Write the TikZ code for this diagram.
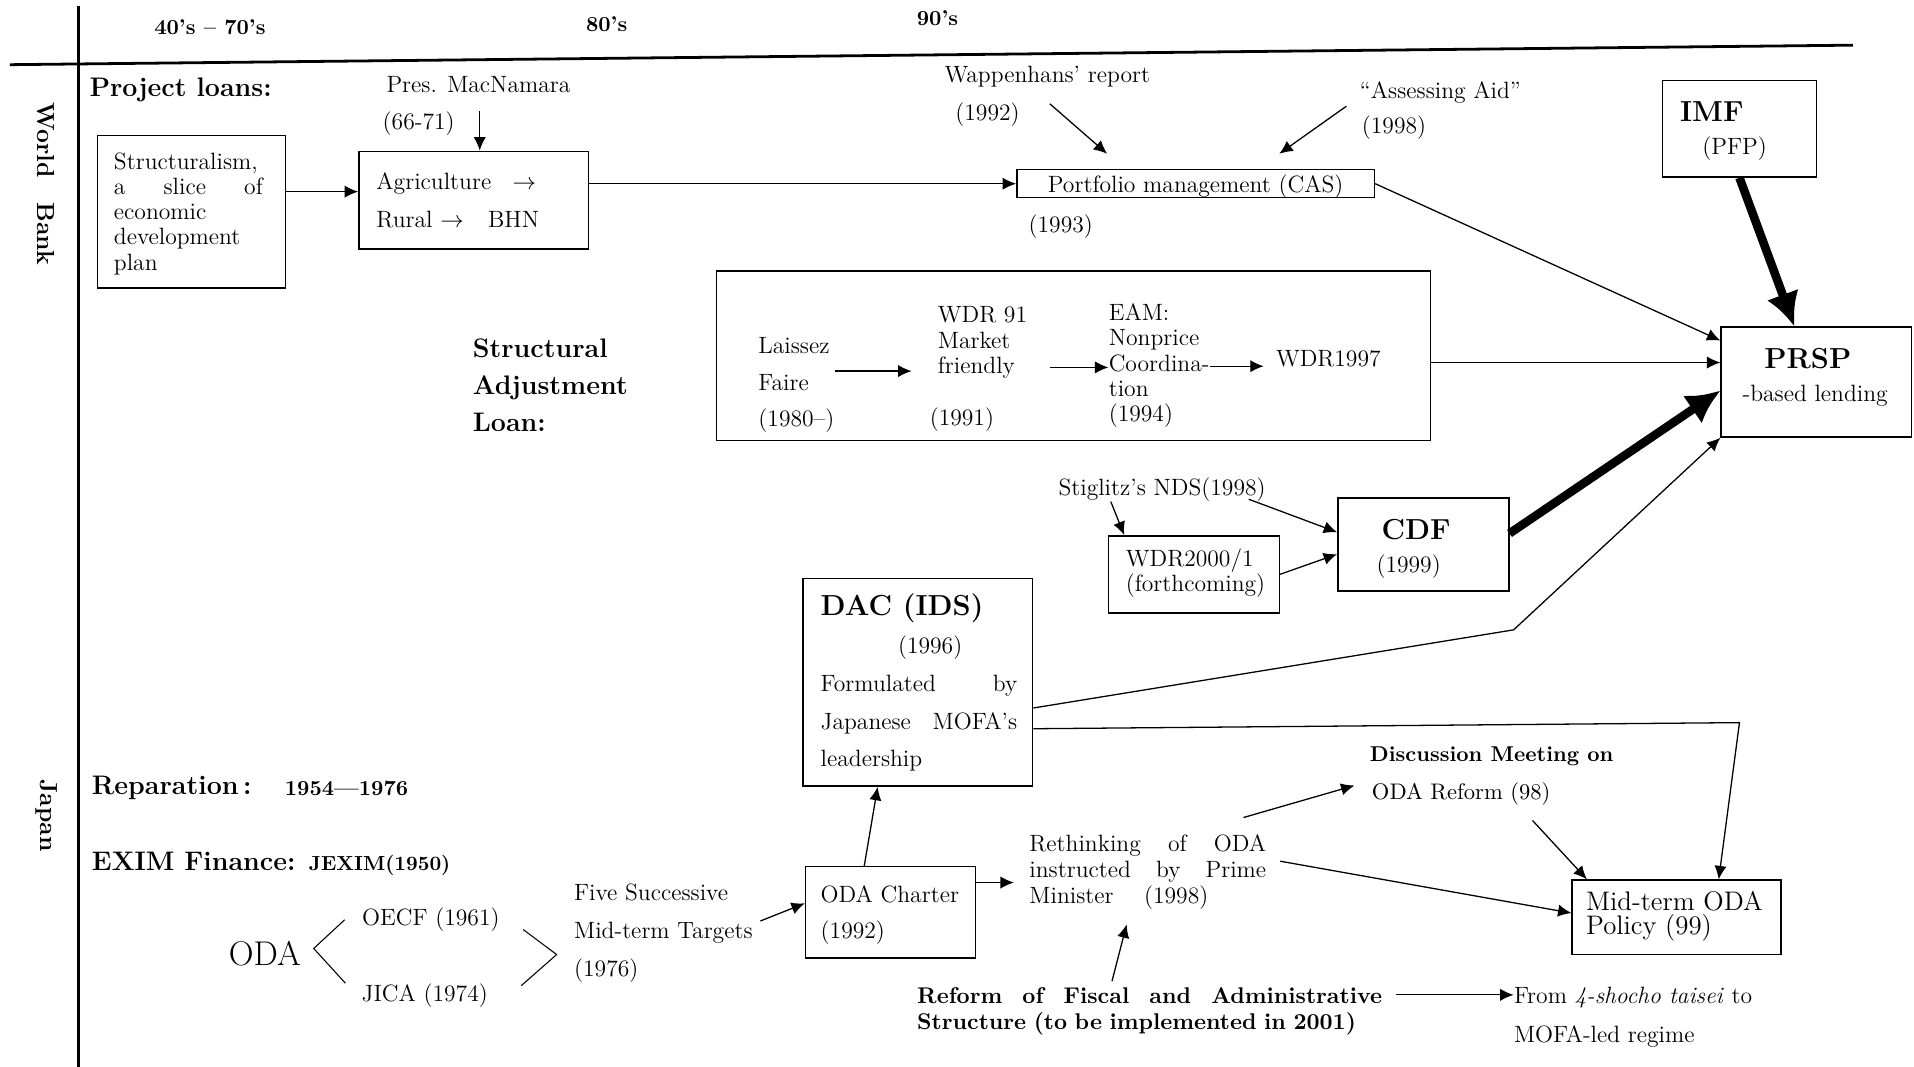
\documentclass[tikz,border=0pt]{standalone}
\usetikzlibrary{arrows.meta,fit}
\begin{document}
\begin{tikzpicture}[x=0.02cm,y=-0.02cm,
box/.style={draw,line width=0.7pt,inner sep=0pt},
txt/.style={inner sep=0pt,yshift=-0.05cm,font=\fontsize{11}{12}\selectfont},
hdr/.style={inner sep=0pt,yshift=-0.05cm,font=\fontsize{10}{12}\selectfont\bfseries},
side/.style={inner sep=0pt,font=\fontsize{11.5}{12}\selectfont\bfseries,rotate=-90},
bld/.style={inner sep=0pt,yshift=-0.05cm,font=\fontsize{12.5}{17.4}\selectfont\bfseries},
big/.style={inner sep=0pt,yshift=-0.03cm,font=\fontsize{13.5}{16}\selectfont\bfseries},
arr/.style={-{Latex[length=2.2mm,width=2mm]},line width=0.6pt},
fat/.style={-{Latex[length=5.5mm,width=5.5mm]},line width=4pt}]
%frame
\useasboundingbox (0,0) rectangle (1568,874);
\draw[line width=1.3pt](64,5)--(64,874);
\draw[line width=1.3pt](8,53)--(1518,37);
\node[hdr](h40) at (172,20){40’s -- 70’s};
\node[hdr](h80) at (497,17){80’s};
\node[hdr](h90) at (768,12){90’s};
\node[side](wbLbl) at (38,151){World\quad Bank};
\node[side](jpLbl) at (38,668){Japan};
%project loans
\node[bld,anchor=west](projLbl) at (73,71){Project loans:};
\node[txt](presLbl) at (392,67){Pres. MacNamara};
\node[txt](presYr) at (343,99){(66-71)};
\node[box,fit={(80,111)(234,236)}](structBox){};
\node[txt,anchor=north west,text width=2.44cm,align=left,font=\fontsize{11}{11.8}\selectfont](structTxt) at (93,122){Structuralism,\\a\hfill slice\hfill of\\economic\\development\\plan};
\node[box,fit={(294,124)(482,204)}](agriBox){};
\node[txt,anchor=west](agriTxt) at (308,148){Agriculture\hspace{0.35cm}$\rightarrow$};
\node[txt,anchor=west](ruralTxt) at (308,177){Rural $\rightarrow$\hspace{0.4cm}BHN};
\coordinate(presTip) at (393,91);
\draw[arr](presTip)--(agriBox.north -| presTip);
\draw[arr](structBox.east |- 0,157)--(agriBox.west |- 0,157);
%portfolio
\node[txt](wapLbl) at (858,60){Wappenhans’ report};
\node[txt](wapYr) at (809,91){(1992)};
\node[txt](aaLbl) at (1180,73){``Assessing Aid''};
\node[txt](aaYr) at (1142,102){(1998)};
\node[box,fit={(833,139)(1126,162)}](portBox){};
\node[txt](portTxt) at (portBox){Portfolio management (CAS)};
\node[txt](portYr) at (869,183){(1993)};
\coordinate(wapTail) at (860,85);
\coordinate(wapTip) at (907,126);
\coordinate(aaTail) at (1103,87);
\coordinate(aaTip) at (1048,126);
\draw[arr](wapTail)--(wapTip);
\draw[arr](aaTail)--(aaTip);
\draw[arr](agriBox.east |- portBox.west)--(portBox.west);
%IMF, PRSP
\node[box,fit={(1362,66)(1488,145)}](imfBox){};
\node[big,anchor=west](imfTxt) at (1376,90){IMF};
\node[txt](pfpTxt) at (1421,119){(PFP)};
\node[box,fit={(1410,268)(1566,358)}](prspBox){};
\node[big](prspTxt) at (1481,292){PRSP};
\node[txt](lendTxt) at (1487,322){-based lending};
\draw[fat](imfBox.south)--(prspBox.north -| 1470,0);
\draw[arr](portBox.east)--(prspBox.west |- 0,279);
%structural adjustment
\node[bld,anchor=west,align=left](salLbl) at (387,313){Structural\\Adjustment\\Loan:};
\node[box,fit={(587,222)(1172,361)}](salBox){};
\node[txt,anchor=west,align=left,font=\fontsize{11}{17}\selectfont](laisTxt) at (621,313){Laissez\\Faire\\(1980--)};
\node[txt,anchor=west,align=left,font=\fontsize{11}{11.8}\selectfont](wdr91Txt) at (768,278){WDR 91\\Market\\friendly};
\node[txt](wdr91Yr) at (788,341){(1991)};
\node[txt,anchor=west,align=left,font=\fontsize{11}{11.8}\selectfont](eamTxt) at (908,297){EAM:\\Nonprice\\Coordina-\\tion\\(1994)};
\node[txt,anchor=west](wdr97Txt) at (1045,291){WDR1997};
\draw[arr](laisTxt.east |- 0,304)--++(63,0);
\draw[arr](eamTxt.west |- 0,301)++(-48,0)--(eamTxt.west |- 0,301);
\draw[arr](eamTxt.east |- 0,300)--++(44,0);
\draw[arr](salBox.east |- 0,297)--(prspBox.west |- 0,297);
%CDF
\node[txt](stigLbl) at (952,399){Stiglitz’s NDS(1998)};
\node[box,fit={(908,439)(1048,502)}](wdr2Box){};
\node[txt,anchor=west,align=left](wdr2Txt) at (922,467){WDR2000/1\\(forthcoming)};
\node[box,fit={(1096,408)(1236,484)}](cdfBox){};
\node[big](cdfTxt) at (1160,432){CDF};
\node[txt](cdfYr) at (1154,462){(1999)};
\coordinate(stigA) at (910,411);
\coordinate(stigB) at (1023,409);
\draw[arr](stigA)--(wdr2Box.north -| 921,0);
\draw[arr](stigB)--(cdfBox.west |- 0,436);
\draw[arr](wdr2Box.east)--(cdfBox.west |- 0,454);
\draw[fat](cdfBox.east |- 0,437)--(prspBox.west |- 0,320);
%DAC
\node[box,fit={(658,474)(846,644)}](dacBox){};
\node[big,anchor=west](dacTxt) at (672,497){DAC (IDS)};
\node[txt](dacYr) at (762,528){(1996)};
\node[txt,anchor=west,text width=3.22cm,align=left,font=\fontsize{11}{17.4}\selectfont](dacDesc) at (672,590){Formulated\hfill by\\Japanese\hfill MOFA’s\\leadership};
\coordinate(dacBend) at (1240,516);
\coordinate(dacCorner) at (1425,592);
\draw[arr](dacBox.east |- 0,580)--(dacBend)--(prspBox.south west);
%========
%Japan
\node[bld,anchor=west](repLbl) at (75,643){Reparation\,:};
\node[hdr,anchor=west](repYr) at (233,643){1954---1976};
\node[bld,anchor=west](eximLbl) at (75,705){EXIM Finance: {\fontsize{9.5}{12}\selectfont JEXIM(1950)}};
\node[inner sep=0pt,font=\fontsize{16}{18}\selectfont](odaLbl) at (217,781){ODA};
\node[txt](oecfLbl) at (353,751){OECF (1961)};
\node[txt](jicaLbl) at (348,813){JICA (1974)};
\coordinate(odaTip) at (257,777);
\coordinate(fiveTip) at (456,782);
\draw[line width=0.5pt]([xshift=-0.28cm]oecfLbl.west)--(odaTip)--([shift={(-0.26cm,0.2cm)}]jicaLbl.west);
\draw[line width=0.5pt]([shift={(0.38cm,-0.16cm)}]oecfLbl.east)--(fiveTip)--([shift={(0.54cm,0.16cm)}]jicaLbl.east);
\node[txt,anchor=west,align=left,font=\fontsize{11}{17.6}\selectfont](fiveTxt) at (470,762){Five Successive\\Mid-term Targets\\(1976)};
\node[box,fit={(660,710)(799,785)}](charterBox){};
\node[txt,anchor=west,align=left,font=\fontsize{11}{17}\selectfont](charterTxt) at (672,747){ODA Charter\\(1992)};
\node[txt,anchor=west,text width=3.88cm,align=left](rethTxt) at (843,712){Rethinking\hfill of\hfill ODA\\instructed\hfill by\hfill Prime\\Minister\hspace{0.5cm}(1998)};
\node[inner sep=0pt,yshift=-0.05cm,font=\fontsize{10}{12}\selectfont\bfseries](discTxt) at (1222,617){Discussion Meeting on};
\node[txt,font=\fontsize{10.5}{12}\selectfont](odaRefTxt) at (1197,648){ODA Reform (98)};
\node[box,fit={(1288,721)(1459,782)}](midBox){};
\node[txt,anchor=west,align=left,font=\fontsize{12.5}{11.4}\selectfont](midTxt) at (1299,748){Mid-term ODA\\Policy (99)};
\node[inner sep=0pt,yshift=-0.05cm,anchor=west,text width=7.62cm,align=left,font=\fontsize{10.6}{12}\selectfont\bfseries](reformTxt) at (751,826){Reform\hfill of\hfill Fiscal\hfill and\hfill Administrative\\Structure (to be implemented in 2001)};
\node[txt,anchor=west](fromTxt) at (1240,815){From \textit{4-shocho taisei} to};
\node[txt,anchor=west](mofaTxt) at (1240,847){MOFA-led regime};
%arrows
\draw[arr]([shift={(0.12cm,0.2cm)}]fiveTxt.east)--(charterBox.west |- 0,740);
\draw[arr](charterBox.north -| 708,0)--(dacBox.south -| 719,0);
\draw[arr](charterBox.east |- 0,723)--++(31,0);
\draw[arr]([shift={(-0.38cm,0.28cm)}]rethTxt.north east)--([shift={(-0.28cm,0.14cm)}]odaRefTxt.west);
\draw[arr]([shift={(-0.3cm,-0.24cm)}]odaRefTxt.south east)--(midBox.north -| 1300,0);
\draw[arr]([shift={(0.22cm,0.18cm)}]rethTxt.east)--(midBox.west |- 0,748);
\draw[arr](dacBox.east |- 0,597)--(dacCorner)--(midBox.north -| 1408,0);
\draw[arr]([shift={(3.2cm,0.1cm)}]reformTxt.north west)--([shift={(1.6cm,-0.24cm)}]rethTxt.south west);
\draw[arr]([yshift=0.05cm]fromTxt.west)++(-96,0)--([yshift=0.05cm]fromTxt.west);
\end{tikzpicture}
\end{document}
